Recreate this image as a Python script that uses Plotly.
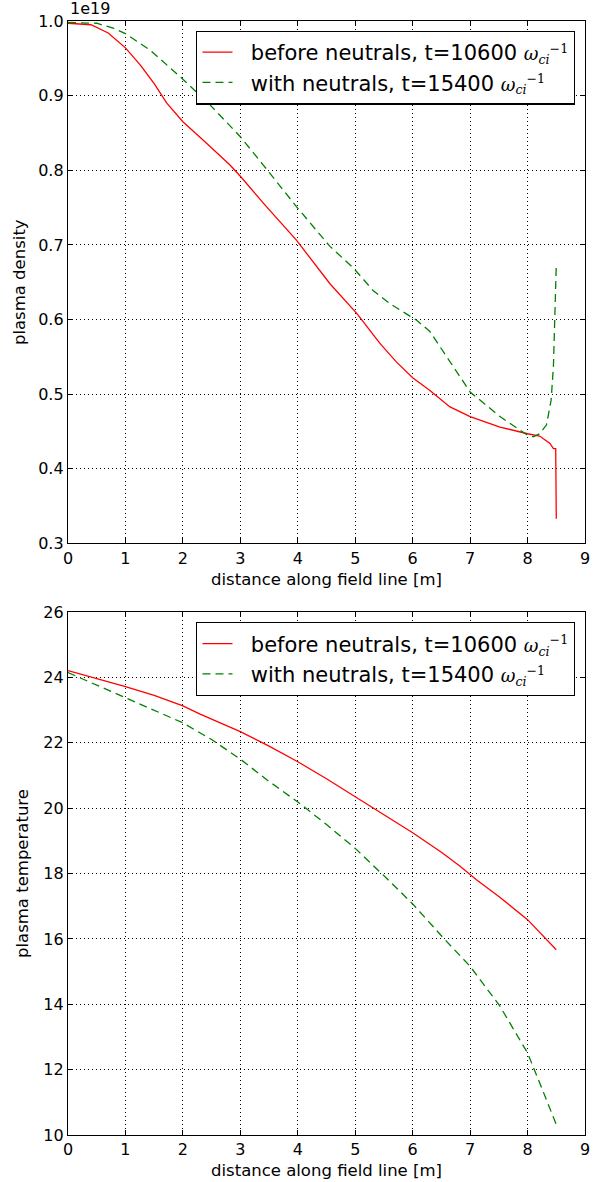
import plotly.graph_objects as go

# ---------- data ----------
# top panel: plasma density (units of 1e19)
dens_before_x = [0, 0.4, 0.7, 1.0, 1.26, 1.5, 1.72, 2.0, 2.36, 2.82, 3.0, 3.4, 3.98, 4.56, 5.03, 5.43,
                 5.72, 6.0, 6.3, 6.65, 7.0, 7.52, 8.0, 8.21, 8.39, 8.45, 8.49, 8.5]
dens_before_y = [0.997, 0.995, 0.984, 0.964, 0.941, 0.916, 0.890, 0.865, 0.840, 0.807, 0.792, 0.756, 0.706,
                 0.648, 0.608, 0.568, 0.543, 0.522, 0.505, 0.483, 0.470, 0.456, 0.447, 0.444, 0.434, 0.427,
                 0.427, 0.333]
dens_with_x = [0, 0.5, 0.8, 1.0, 1.43, 2.0, 2.48, 3.0, 3.4, 3.98, 4.56, 4.97, 5.31, 5.61, 5.84, 6.07, 6.3,
               6.53, 6.77, 7.0, 7.52, 8.0, 8.1, 8.21, 8.33, 8.41, 8.45, 8.47, 8.5]
dens_with_y = [0.998, 0.997, 0.990, 0.983, 0.961, 0.922, 0.887, 0.845, 0.807, 0.751, 0.698, 0.669, 0.639,
               0.621, 0.610, 0.599, 0.584, 0.557, 0.530, 0.503, 0.470, 0.445, 0.443, 0.447, 0.459, 0.492,
               0.537, 0.604, 0.673]

# bottom panel: plasma temperature
temp_before_x = [0, 0.5, 1, 1.5, 2, 2.3, 3, 3.5, 4, 4.5, 5, 5.5, 6, 6.5, 6.82, 7.11, 7.5, 8.0, 8.5]
temp_before_y = [24.21, 23.97, 23.72, 23.45, 23.13, 22.88, 22.34, 21.9, 21.42, 20.9, 20.35, 19.82, 19.25,
                 18.65, 18.23, 17.81, 17.3, 16.59, 15.67]
temp_with_x = [0, 0.5, 1, 1.5, 2, 2.5, 3, 3.46, 4, 4.5, 5, 5.55, 6.0, 6.56, 7.0, 7.52, 8.0, 8.21, 8.5]
temp_with_y = [24.15, 23.77, 23.37, 23.0, 22.61, 22.1, 21.5, 20.87, 20.19, 19.5, 18.77, 17.85, 17.07,
               15.98, 15.16, 13.94, 12.51, 11.60, 10.32]

x_ticks = [0, 1, 2, 3, 4, 5, 6, 7, 8, 9]
dens_ticks = [0.3, 0.4, 0.5, 0.6, 0.7, 0.8, 0.9, 1.0]
temp_ticks = [10, 12, 14, 16, 18, 20, 22, 24, 26]

OMEGA = "<span style='font-family:DejaVu Serif;font-size:18px'><i>ω</i><sub><i>ci</i></sub><sup>−1</sup></span>"
label_before = "\u00a0\u00a0before neutrals, t=10600 " + OMEGA
label_with = "\u00a0\u00a0with neutrals, t=15400 " + OMEGA

RED = "#ff0000"
GREEN = "#008000"
DASH = "8px,5px"

fig = go.Figure()
fig.add_trace(go.Scatter(x=dens_before_x, y=dens_before_y, mode="lines", name=label_before,
                         line=dict(color=RED, width=1.3), xaxis="x", yaxis="y", legend="legend",
                         legendgroup="a"))
fig.add_trace(go.Scatter(x=dens_with_x, y=dens_with_y, mode="lines", name=label_with,
                         line=dict(color=GREEN, width=1.3, dash=DASH), xaxis="x", yaxis="y",
                         legend="legend", legendgroup="b"))
fig.add_trace(go.Scatter(x=temp_before_x, y=temp_before_y, mode="lines", name=label_before,
                         line=dict(color=RED, width=1.3), xaxis="x2", yaxis="y2", legend="legend2",
                         legendgroup="c"))
fig.add_trace(go.Scatter(x=temp_with_x, y=temp_with_y, mode="lines", name=label_with,
                         line=dict(color=GREEN, width=1.3, dash=DASH), xaxis="x2", yaxis="y2",
                         legend="legend2", legendgroup="d"))

FONT = "DejaVu Sans"
tickfont = dict(family=FONT, size=16, color="black")
titlefont = dict(family=FONT, size=16.5, color="black")

common_axis = dict(
    showline=True, linecolor="black", linewidth=1.3, mirror="allticks",
    ticks="inside", ticklen=5, tickcolor="black", tickwidth=1,
    showgrid=True, gridcolor="black", gridwidth=1, griddash="1px,3px",
    zeroline=False, tickfont=tickfont, automargin=False,
)

legend_common = dict(
    bgcolor="white", bordercolor="black", borderwidth=1.3,
    font=dict(family=FONT, size=21, color="black"),
    xanchor="right", yanchor="top", tracegroupgap=0,
    itemwidth=30,
)

fig.update_layout(
    width=603, height=1182,
    margin=dict(l=67.7, r=18, t=21, b=46.7, autoexpand=False),
    paper_bgcolor="white", plot_bgcolor="white",
    showlegend=True,
    xaxis=dict(domain=[0, 1], anchor="y", range=[0, 9], tickvals=x_ticks,
               title=dict(text="distance along field line [m]", font=titlefont, standoff=6),
               **common_axis),
    yaxis=dict(domain=[0.531, 1], anchor="x", range=[0.3, 1.0], tickvals=dens_ticks,
               tickformat=".1f",
               title=dict(text="plasma density", font=titlefont, standoff=8),
               **common_axis),
    xaxis2=dict(domain=[0, 1], anchor="y2", range=[0, 9], tickvals=x_ticks,
                title=dict(text="distance along field line [m]", font=titlefont, standoff=6),
                **common_axis),
    yaxis2=dict(domain=[0, 0.4694], anchor="x2", range=[10, 26], tickvals=temp_ticks,
                title=dict(text="plasma temperature", font=titlefont, standoff=10),
                **common_axis),
    legend=dict(x=0.981, y=0.9913, **legend_common),
    legend2=dict(x=0.981, y=0.4604, **legend_common),
    annotations=[dict(text="1e19", xref="paper", yref="paper", x=0, y=1, xanchor="left",
                      yanchor="bottom", yshift=1, showarrow=False,
                      font=dict(family=FONT, size=16, color="black"))],
)

fig.write_html("out.html", config={"displayModeBar": False},
               post_script="document.body.style.margin='0px';document.body.style.overflow='hidden';")
